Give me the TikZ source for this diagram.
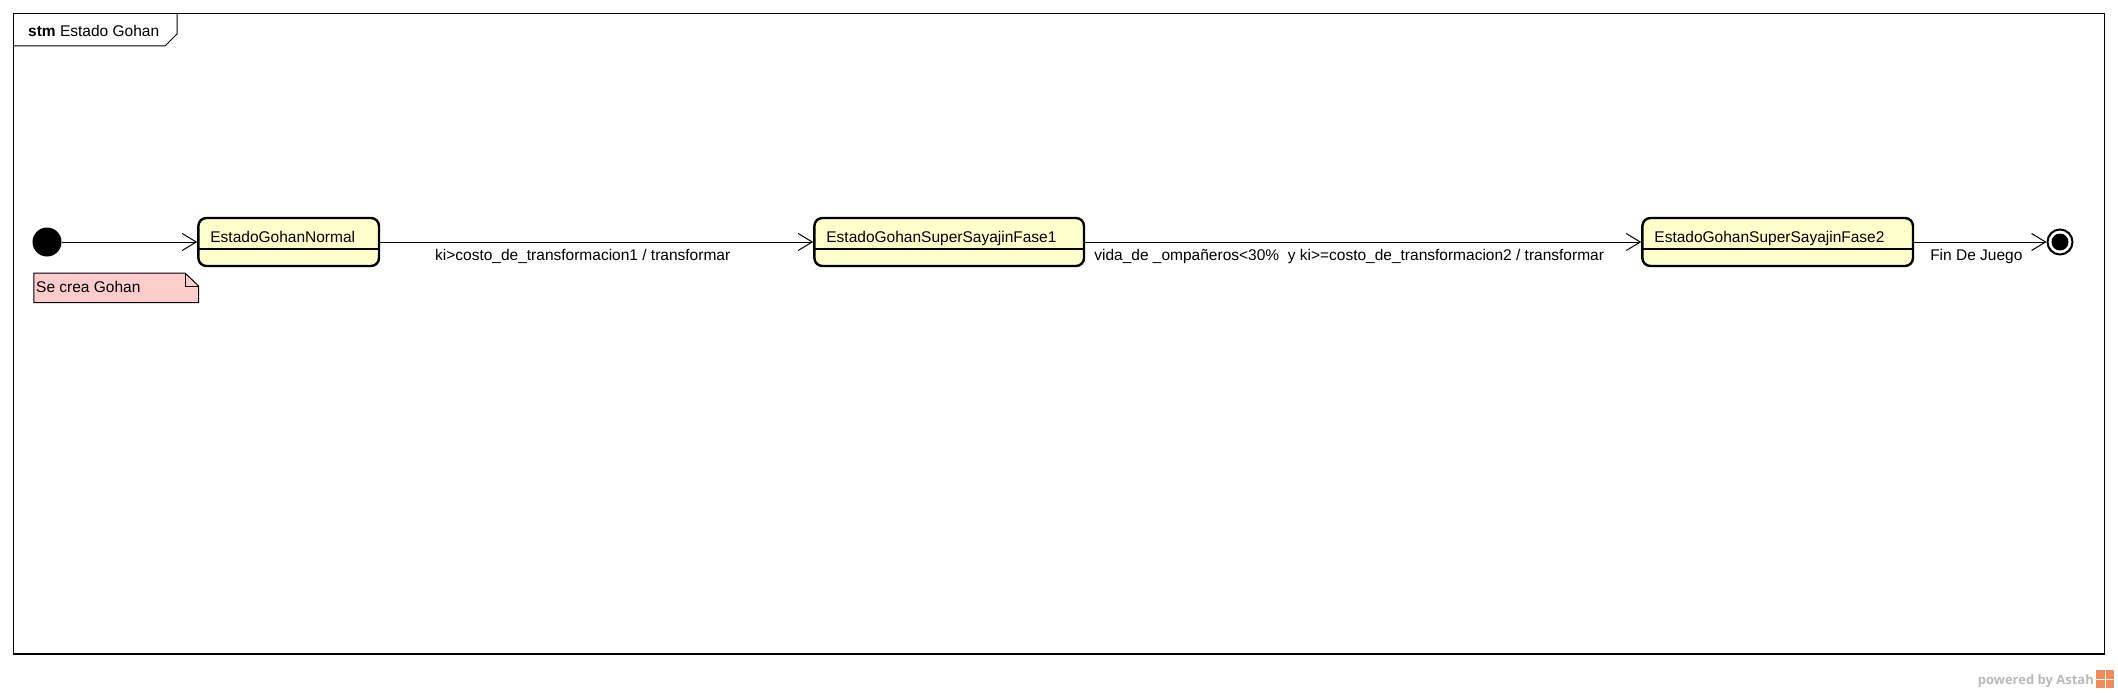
\documentclass[tikz,border=0pt]{standalone}
\usepackage{fontspec}
\setmainfont{Liberation Sans}
\newfontfamily\astahfont{Open Sans}
\usetikzlibrary{arrows.meta,positioning}
\definecolor{estadoamarillo}{RGB}{255,255,204}
\definecolor{notarosa}{RGB}{255,204,204}
\definecolor{astahgris}{RGB}{185,185,185}
\definecolor{astahnaranja}{RGB}{238,140,90}
\begin{document}
\begin{tikzpicture}[x=1pt,y=-1pt,font=\fontsize{15.5}{18}\selectfont,
    estado/.style={draw,line width=2.4pt,rounded corners=8pt,fill=estadoamarillo,
      align=left,inner xsep=12pt,inner ysep=0pt,text height=24pt,text depth=24pt,
      anchor=base west},
    transicion/.style={line width=1pt,-{Straight Barb[length=14pt,width=17pt,line width=1pt]}},
    guarda/.style={text height=11.5pt,text depth=3pt,inner sep=0pt,anchor=north,yshift=-6.5pt}]
  \useasboundingbox (0,0) rectangle (2118,693);
  \draw[line width=1.2pt] (13.5,13.5) rectangle (2104.5,654);
  \draw[line width=1pt] (13.5,46) -- (165,46) -- (177,34) -- (177,13.5);
  \node[anchor=base west,inner sep=0pt] (marco) at (28,37) {\textbf{stm} Estado Gohan};

  \node[circle,fill,inner sep=0pt,minimum size=29pt] (inicio) at (47,242) {};
  \node[estado,text width=156.6pt] (normal) at (197.2,242) {EstadoGohanNormal};
  \node[estado,text width=245.6pt] (fase1) at (813.2,242) {EstadoGohanSuperSayajinFase1};
  \node[estado,text width=246.6pt] (fase2) at (1641.2,242) {EstadoGohanSuperSayajinFase2};
  \node[circle,draw,line width=2pt,inner sep=0pt,minimum size=25pt] (fin) at (2060,242) {};
  \fill (fin.center) circle (8.5pt);
  \foreach \e in {normal,fase1,fase2}
    \draw[line width=1.2pt] ([yshift=-7pt]\e.west) -- ([yshift=-7pt]\e.east);

  \draw[transicion] (inicio) -- (normal);
  \draw[transicion] (normal) -- node[guarda,xshift=-14pt]
    {ki>costo\_de\_transformacion1 / transformar} (fase1);
  \draw[transicion] (fase1) -- node[guarda,xshift=-14pt]
    {vida\_de \_ompañeros<30\%\ \ y ki>=costo\_de\_transformacion2 / transformar} (fase2);
  \draw[transicion] (fase2) -- node[guarda,xshift=-4pt] {Fin De Juego} (fin);

  \draw[fill=notarosa,line width=1pt] (33.8,273) -- (185,273) -- (198.6,286)
    -- (198.6,302.6) -- (33.8,302.6) -- cycle;
  \draw[line width=1pt] (185,273) -- (185,286) -- (198.6,286);
  \node[anchor=base west,inner sep=0pt] (nota) at (36,292) {Se crea Gohan};

  \node[anchor=base east,inner sep=0pt,text=astahgris,font=\astahfont\bfseries\fontsize{13}{15}\selectfont]
    (astah) at (2094,684) {powered by Astah};
  \fill[astahnaranja] (2096,670) rectangle (2114,688);
  \draw[white,line width=1pt] (2105,670) -- (2105,688) (2096,679) -- (2114,679);
\end{tikzpicture}
\end{document}
